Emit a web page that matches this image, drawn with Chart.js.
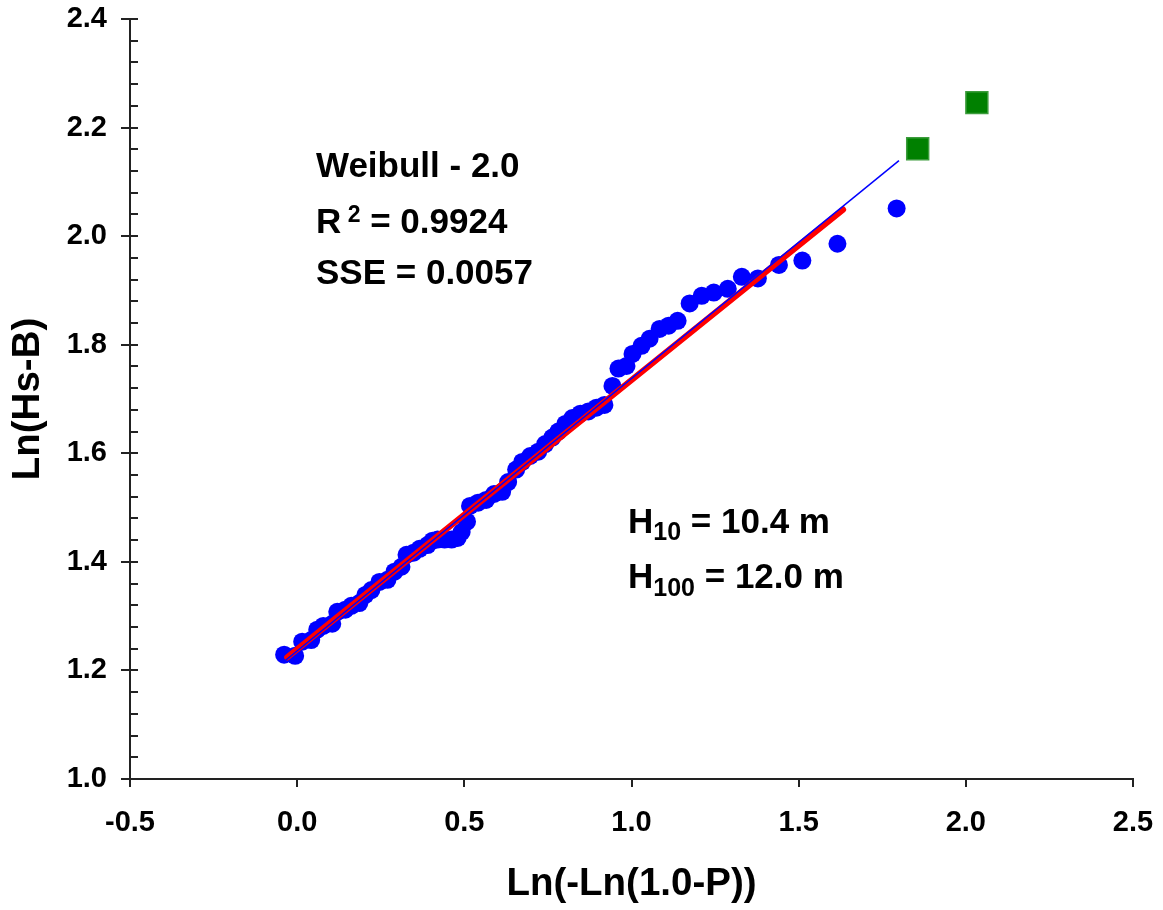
<!DOCTYPE html>
<html>
<head>
<meta charset="utf-8">
<title>Weibull - 2.0</title>
<script src="https://cdn.jsdelivr.net/npm/chart.js@4.4.1/dist/chart.umd.min.js"></script>
<style>
  html, body { margin: 0; padding: 0; background: #fff; }
  #wrap { width: 1163px; height: 910px; }
</style>
</head>
<body>
<div id="wrap"><canvas id="weibullChart" width="1163" height="910"></canvas></div>
<script>
const FONT = '"Liberation Sans", Arial, Helvetica, sans-serif';

// observed sample: Ln(-Ln(1.0-P)) against Ln(Hs-B)
const obsX = [-0.039, -0.006, 0.015, 0.042, 0.060, 0.078, 0.105, 0.120, 0.144, 0.162,
  0.186, 0.204, 0.222, 0.246, 0.270, 0.291, 0.312, 0.327, 0.348, 0.366,
  0.390, 0.405, 0.420, 0.441, 0.462, 0.480, 0.492, 0.508, 0.517, 0.541,
  0.565, 0.589, 0.613, 0.631, 0.655, 0.673, 0.697, 0.721, 0.742, 0.763,
  0.781, 0.802, 0.823, 0.847, 0.871, 0.895, 0.919, 0.943, 0.961, 0.985,
  1.003, 1.030, 1.054, 1.084, 1.111, 1.138, 1.174, 1.210, 1.246, 1.288,
  1.330, 1.378, 1.441, 1.511, 1.616, 1.793];
const obsY = [1.229, 1.227, 1.253, 1.256, 1.275, 1.282, 1.286, 1.308, 1.312, 1.319,
  1.324, 1.339, 1.348, 1.363, 1.367, 1.382, 1.391, 1.413, 1.417, 1.424,
  1.431, 1.439, 1.441, 1.441, 1.441, 1.444, 1.455, 1.474, 1.503, 1.509,
  1.514, 1.525, 1.529, 1.547, 1.570, 1.584, 1.595, 1.603, 1.617, 1.629,
  1.640, 1.654, 1.665, 1.673, 1.677, 1.684, 1.689, 1.724, 1.756, 1.761,
  1.783, 1.798, 1.811, 1.829, 1.835, 1.844, 1.876, 1.890, 1.896, 1.903,
  1.925, 1.922, 1.947, 1.955, 1.986, 2.051];

// fitted distribution line (thin blue) and regression segment (thick red)
const fitX = [-0.04, 1.80];
const fitY = [1.216, 2.139];
const lsqX = [-0.03, 1.633];
const lsqY = [1.224, 2.049];

// return levels H10 / H100
const extX = [1.856, 2.033];
const extY = [2.161, 2.246];

const xTicks = [-0.5, 0.0, 0.5, 1.0, 1.5, 2.0, 2.5];
const yTicks = [1.0, 1.2, 1.4, 1.6, 1.8, 2.0, 2.2, 2.4];
const yMinorStep = 0.04;

const toPts = (xs, ys) => xs.map((x, i) => ({ x: x, y: ys[i] }));

// text runs drawn one after another (for sub/superscripts)
function drawRuns(ctx, x, y, runs) {
  runs.forEach(r => {
    ctx.font = 'bold ' + r.size + 'px ' + FONT;
    ctx.fillText(r.text, x, y + (r.dy || 0));
    x += ctx.measureText(r.text).width;
  });
}

const axisDecor = {
  id: 'axisDecor',
  afterDraw(chart) {
    const ctx = chart.ctx;
    const sx = chart.scales.x, sy = chart.scales.y;
    const left = chart.chartArea.left, bottom = chart.chartArea.bottom;
    ctx.save();
    ctx.strokeStyle = '#222';
    ctx.lineWidth = 2;
    ctx.beginPath();
    const yMin = yTicks[0], yMax = yTicks[yTicks.length - 1];
    const n = Math.round((yMax - yMin) / yMinorStep);
    for (let i = 0; i <= n; i++) {
      const v = yMin + i * yMinorStep;
      const py = Math.round(sy.getPixelForValue(v));
      const major = yTicks.some(t => Math.abs(t - v) < 1e-6);
      ctx.moveTo(left - (major ? 9 : 0), py);
      ctx.lineTo(left + 8, py);
    }
    xTicks.forEach(t => {
      const px = Math.round(sx.getPixelForValue(t));
      ctx.moveTo(px, bottom);
      ctx.lineTo(px, bottom + 8);
    });
    ctx.stroke();

    ctx.fillStyle = '#000';
    ctx.textAlign = 'left';
    ctx.textBaseline = 'alphabetic';
    drawRuns(ctx, 316, 177, [{ text: 'Weibull - 2.0', size: 35 }]);
    drawRuns(ctx, 316, 233, [
      { text: 'R', size: 35 },
      { text: ' 2', size: 23, dy: -11 },
      { text: ' = 0.9924', size: 35 }
    ]);
    drawRuns(ctx, 316, 284, [{ text: 'SSE = 0.0057', size: 35 }]);
    drawRuns(ctx, 628, 533, [
      { text: 'H', size: 35 },
      { text: '10', size: 25, dy: 7 },
      { text: ' = 10.4 m', size: 35 }
    ]);
    drawRuns(ctx, 628, 588, [
      { text: 'H', size: 35 },
      { text: '100', size: 25, dy: 8 },
      { text: ' = 12.0 m', size: 35 }
    ]);
    ctx.restore();
  }
};

Chart.defaults.font.family = FONT;
Chart.defaults.color = '#000';

new Chart(document.getElementById('weibullChart'), {
  type: 'scatter',
  data: {
    datasets: [
      {
        label: 'Weibull fit',
        data: toPts(fitX, fitY),
        showLine: true,
        borderColor: '#0000ff',
        borderWidth: 1.5,
        pointRadius: 0
      },
      {
        label: 'Regression',
        data: toPts(lsqX, lsqY),
        showLine: true,
        borderColor: '#ff0000',
        borderWidth: 6,
        borderCapStyle: 'round',
        pointRadius: 0
      },
      {
        label: 'Observed',
        data: toPts(obsX, obsY),
        backgroundColor: '#0000ff',
        borderWidth: 0,
        pointRadius: 9
      },
      {
        label: 'H10 / H100',
        data: toPts(extX, extY),
        pointStyle: 'rect',
        backgroundColor: '#008000',
        borderColor: '#3c9c3c',
        borderWidth: 1.5,
        pointRadius: 15.5
      }
    ]
  },
  options: {
    responsive: false,
    animation: false,
    events: [],
    layout: { padding: { left: 0, top: 19, right: 30, bottom: 0 } },
    plugins: { legend: { display: false }, tooltip: { enabled: false } },
    scales: {
      x: {
        type: 'linear',
        min: xTicks[0],
        max: xTicks[xTicks.length - 1],
        afterBuildTicks: s => { s.ticks = xTicks.map(v => ({ value: v })); },
        afterFit: s => { s.height = 131; s.paddingLeft = 0; s.paddingRight = 0; },
        grid: { display: false, drawTicks: false },
        border: { display: true, color: '#222', width: 2 },
        ticks: {
          padding: 27,
          font: { size: 29, weight: 'bold' },
          callback: v => v.toFixed(1)
        },
        title: {
          display: true,
          text: 'Ln(-Ln(1.0-P))',
          font: { size: 38.5, weight: 'bold' },
          padding: { top: 0, bottom: 3 }
        }
      },
      y: {
        type: 'linear',
        min: yTicks[0],
        max: yTicks[yTicks.length - 1],
        afterBuildTicks: s => { s.ticks = yTicks.map(v => ({ value: v })); },
        afterFit: s => { s.width = 130; s.paddingTop = 0; s.paddingBottom = 0; },
        grid: { display: false, drawTicks: false },
        border: { display: true, color: '#222', width: 2 },
        ticks: {
          padding: 23,
          font: { size: 29, weight: 'bold' },
          callback: v => v.toFixed(1)
        },
        title: {
          display: true,
          text: 'Ln(Hs-B)',
          font: { size: 38.5, weight: 'bold' },
          padding: { top: 5, bottom: 0 }
        }
      }
    }
  },
  plugins: [axisDecor]
});
</script>
</body>
</html>
